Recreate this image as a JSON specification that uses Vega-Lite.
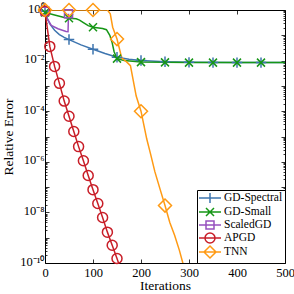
{
  "$schema": "https://vega.github.io/schema/vega-lite/v6.json",
  "width": 240,
  "height": 253,
  "autosize": "none",
  "padding": {"left": 45, "top": 10, "right": 9, "bottom": 31},
  "config": {
    "font": "Liberation Serif",
    "view": {"stroke": null},
    "axis": {
      "domainColor": "black", "tickColor": "black", "labelColor": "black", "titleColor": "black",
      "labelFont": "Liberation Serif", "titleFont": "Liberation Serif",
      "labelFontSize": 12.5, "titleFontSize": 13.5, "titleFontWeight": "normal",
      "grid": false, "domainWidth": 1, "tickWidth": 0.8
    },
    "legend": {"labelFont": "Liberation Serif", "labelFontSize": 11.5}
  },
  "datasets": {
    "lines": [
      {"method": "GD-Spectral", "iter": 0, "err": 0.891},
      {"method": "GD-Spectral", "iter": 5, "err": 0.447},
      {"method": "GD-Spectral", "iter": 10, "err": 0.282},
      {"method": "GD-Spectral", "iter": 20, "err": 0.158},
      {"method": "GD-Spectral", "iter": 30, "err": 0.107},
      {"method": "GD-Spectral", "iter": 40, "err": 0.0832},
      {"method": "GD-Spectral", "iter": 50, "err": 0.0676},
      {"method": "GD-Spectral", "iter": 75, "err": 0.0417},
      {"method": "GD-Spectral", "iter": 100, "err": 0.0282},
      {"method": "GD-Spectral", "iter": 125, "err": 0.0191},
      {"method": "GD-Spectral", "iter": 150, "err": 0.0135},
      {"method": "GD-Spectral", "iter": 175, "err": 0.0112},
      {"method": "GD-Spectral", "iter": 200, "err": 0.01},
      {"method": "GD-Spectral", "iter": 250, "err": 0.00891},
      {"method": "GD-Spectral", "iter": 300, "err": 0.00851},
      {"method": "GD-Spectral", "iter": 400, "err": 0.00832},
      {"method": "GD-Spectral", "iter": 500, "err": 0.00832},
      {"method": "GD-Small", "iter": 0, "err": 0.794},
      {"method": "GD-Small", "iter": 20, "err": 0.631},
      {"method": "GD-Small", "iter": 40, "err": 0.501},
      {"method": "GD-Small", "iter": 50, "err": 0.468},
      {"method": "GD-Small", "iter": 65, "err": 0.447},
      {"method": "GD-Small", "iter": 72, "err": 0.398},
      {"method": "GD-Small", "iter": 80, "err": 0.316},
      {"method": "GD-Small", "iter": 90, "err": 0.24},
      {"method": "GD-Small", "iter": 100, "err": 0.209},
      {"method": "GD-Small", "iter": 120, "err": 0.186},
      {"method": "GD-Small", "iter": 128, "err": 0.166},
      {"method": "GD-Small", "iter": 135, "err": 0.1},
      {"method": "GD-Small", "iter": 140, "err": 0.0501},
      {"method": "GD-Small", "iter": 144, "err": 0.0224},
      {"method": "GD-Small", "iter": 150, "err": 0.012},
      {"method": "GD-Small", "iter": 165, "err": 0.01},
      {"method": "GD-Small", "iter": 200, "err": 0.00871},
      {"method": "GD-Small", "iter": 300, "err": 0.00832},
      {"method": "GD-Small", "iter": 500, "err": 0.00832},
      {"method": "ScaledGD", "iter": 0, "err": 0.891},
      {"method": "ScaledGD", "iter": 3, "err": 0.525},
      {"method": "ScaledGD", "iter": 13, "err": 0.245},
      {"method": "ScaledGD", "iter": 27, "err": 0.182},
      {"method": "ScaledGD", "iter": 44, "err": 0.141},
      {"method": "ScaledGD", "iter": 48, "err": 0.138},
      {"method": "ScaledGD", "iter": 49, "err": 0.708},
      {"method": "APGD", "iter": 0, "err": 0.891},
      {"method": "APGD", "iter": 10, "err": 0.0363},
      {"method": "APGD", "iter": 20, "err": 0.00589},
      {"method": "APGD", "iter": 30, "err": 0.00126},
      {"method": "APGD", "iter": 40, "err": 0.000251},
      {"method": "APGD", "iter": 50, "err": 6.31e-5},
      {"method": "APGD", "iter": 60, "err": 1.58e-5},
      {"method": "APGD", "iter": 70, "err": 3.98e-6},
      {"method": "APGD", "iter": 80, "err": 1.1e-6},
      {"method": "APGD", "iter": 90, "err": 2.88e-7},
      {"method": "APGD", "iter": 100, "err": 7.94e-8},
      {"method": "APGD", "iter": 110, "err": 2.24e-8},
      {"method": "APGD", "iter": 120, "err": 6.31e-9},
      {"method": "APGD", "iter": 130, "err": 1.66e-9},
      {"method": "APGD", "iter": 140, "err": 5.01e-10},
      {"method": "APGD", "iter": 150, "err": 1.51e-10},
      {"method": "APGD", "iter": 155, "err": 7.94e-11},
      {"method": "TNN", "iter": 0, "err": 1},
      {"method": "TNN", "iter": 130, "err": 1},
      {"method": "TNN", "iter": 136, "err": 0.708},
      {"method": "TNN", "iter": 141, "err": 0.209},
      {"method": "TNN", "iter": 150, "err": 0.0708},
      {"method": "TNN", "iter": 160, "err": 0.0126},
      {"method": "TNN", "iter": 170, "err": 0.00891},
      {"method": "TNN", "iter": 178, "err": 0.00631},
      {"method": "TNN", "iter": 184, "err": 0.00158},
      {"method": "TNN", "iter": 190, "err": 0.000398},
      {"method": "TNN", "iter": 200, "err": 0.0001},
      {"method": "TNN", "iter": 212, "err": 7.94e-6},
      {"method": "TNN", "iter": 220, "err": 2.0e-6},
      {"method": "TNN", "iter": 229, "err": 3.98e-7},
      {"method": "TNN", "iter": 240, "err": 7.94e-8},
      {"method": "TNN", "iter": 250, "err": 1.86e-8},
      {"method": "TNN", "iter": 260, "err": 3.98e-9},
      {"method": "TNN", "iter": 270, "err": 1.26e-9},
      {"method": "TNN", "iter": 280, "err": 3.16e-10},
      {"method": "TNN", "iter": 290, "err": 6.31e-11}
    ],
    "marks": [
      {"method": "GD-Spectral", "iter": 0, "err": 0.891},
      {"method": "GD-Spectral", "iter": 50, "err": 0.0676},
      {"method": "GD-Spectral", "iter": 100, "err": 0.0282},
      {"method": "GD-Spectral", "iter": 150, "err": 0.0135},
      {"method": "GD-Spectral", "iter": 200, "err": 0.01},
      {"method": "GD-Spectral", "iter": 250, "err": 0.00891},
      {"method": "GD-Spectral", "iter": 300, "err": 0.00851},
      {"method": "GD-Spectral", "iter": 350, "err": 0.00832},
      {"method": "GD-Spectral", "iter": 400, "err": 0.00832},
      {"method": "GD-Spectral", "iter": 450, "err": 0.00832},
      {"method": "GD-Small", "iter": 0, "err": 0.794},
      {"method": "GD-Small", "iter": 50, "err": 0.468},
      {"method": "GD-Small", "iter": 100, "err": 0.209},
      {"method": "GD-Small", "iter": 150, "err": 0.012},
      {"method": "GD-Small", "iter": 200, "err": 0.00871},
      {"method": "GD-Small", "iter": 250, "err": 0.00851},
      {"method": "GD-Small", "iter": 300, "err": 0.00832},
      {"method": "GD-Small", "iter": 350, "err": 0.00832},
      {"method": "GD-Small", "iter": 400, "err": 0.00832},
      {"method": "GD-Small", "iter": 450, "err": 0.00832},
      {"method": "ScaledGD", "iter": 0, "err": 0.891},
      {"method": "ScaledGD", "iter": 49, "err": 0.708},
      {"method": "APGD", "iter": 0, "err": 0.891},
      {"method": "APGD", "iter": 10, "err": 0.0363},
      {"method": "APGD", "iter": 20, "err": 0.00589},
      {"method": "APGD", "iter": 30, "err": 0.00126},
      {"method": "APGD", "iter": 40, "err": 0.000251},
      {"method": "APGD", "iter": 50, "err": 6.31e-5},
      {"method": "APGD", "iter": 60, "err": 1.58e-5},
      {"method": "APGD", "iter": 70, "err": 3.98e-6},
      {"method": "APGD", "iter": 80, "err": 1.1e-6},
      {"method": "APGD", "iter": 90, "err": 2.88e-7},
      {"method": "APGD", "iter": 100, "err": 7.94e-8},
      {"method": "APGD", "iter": 110, "err": 2.24e-8},
      {"method": "APGD", "iter": 120, "err": 6.31e-9},
      {"method": "APGD", "iter": 130, "err": 1.66e-9},
      {"method": "APGD", "iter": 140, "err": 5.01e-10},
      {"method": "APGD", "iter": 150, "err": 1.51e-10},
      {"method": "TNN", "iter": 0, "err": 1},
      {"method": "TNN", "iter": 50, "err": 1},
      {"method": "TNN", "iter": 100, "err": 1},
      {"method": "TNN", "iter": 150, "err": 0.0708},
      {"method": "TNN", "iter": 200, "err": 0.0001},
      {"method": "TNN", "iter": 250, "err": 1.86e-8}
    ]
  },
  "resolve": {"axis": {"x": "independent", "y": "independent"}},
  "layer": [
    {
      "data": {"name": "lines"},
      "mark": {"type": "line", "strokeWidth": 1.5, "clip": true},
      "encoding": {
        "x": {"field": "iter", "type": "quantitative",
          "scale": {"domain": [0, 500], "nice": false, "zero": false},
          "axis": {"orient": "bottom", "values": [0, 100, 200, 300, 400, 500], "tickSize": -4, "labelPadding": 7, "title": "Iterations", "titlePadding": 0, "labelFlush": false}},
        "y": {"field": "err", "type": "quantitative",
          "scale": {"type": "log", "domain": [1e-10, 1], "nice": false},
          "axis": {"orient": "left", "values": [1, 0.1, 0.01, 0.001, 0.0001, 1e-5, 1e-6, 1e-7, 1e-8, 1e-9, 1e-10], "tickSize": -4, "labelPadding": 5, "labelFlush": false, "labelOffset": -2,
            "labelExpr": "round(log(datum.value)/LN10) == 0 ? '10⁰' : round(log(datum.value)/LN10) == -2 ? '10⁻²' : round(log(datum.value)/LN10) == -4 ? '10⁻⁴' : round(log(datum.value)/LN10) == -6 ? '10⁻⁶' : round(log(datum.value)/LN10) == -8 ? '10⁻⁸' : round(log(datum.value)/LN10) == -10 ? '10⁻¹⁰' : ''",
            "title": "Relative Error", "titlePadding": 4}},
        "color": {"field": "method", "type": "nominal",
          "scale": {"domain": ["GD-Spectral", "GD-Small", "ScaledGD", "APGD", "TNN"], "range": ["#3E75AF", "#169616", "#9650BE", "#C81E28", "#FF9A14"]},
          "legend": {"title": null, "orient": "bottom-right", "offset": 0, "strokeColor": "black", "fillColor": "white", "padding": 2, "labelFontSize": 11.5, "labelColor": "black", "symbolSize": 100, "symbolStrokeWidth": 1.5, "symbolOffset": 5, "labelOffset": 8, "rowPadding": -4, "cornerRadius": 0}}
      }
    },
    {
      "data": {"name": "marks"},
      "transform": [{"filter": "datum.method == 'GD-Spectral'"}],
      "mark": {"type": "point", "filled": false, "strokeWidth": 1.5, "size": 110, "opacity": 1, "clip": false, "shape": "M-1,0H1M0,-1V1"},
      "encoding": {
        "x": {"field": "iter", "type": "quantitative", "axis": null},
        "y": {"field": "err", "type": "quantitative", "axis": null},
        "color": {"field": "method", "type": "nominal"}
      }
    },
    {
      "data": {"name": "marks"},
      "transform": [{"filter": "datum.method == 'GD-Small'"}],
      "mark": {"type": "point", "filled": false, "strokeWidth": 1.5, "size": 100, "opacity": 1, "clip": false, "shape": "M-0.8,-0.8L0.8,0.8M-0.8,0.8L0.8,-0.8"},
      "encoding": {
        "x": {"field": "iter", "type": "quantitative", "axis": null},
        "y": {"field": "err", "type": "quantitative", "axis": null},
        "color": {"field": "method", "type": "nominal"}
      }
    },
    {
      "data": {"name": "marks"},
      "transform": [{"filter": "datum.method == 'ScaledGD'"}],
      "mark": {"type": "point", "filled": false, "strokeWidth": 1.5, "size": 100, "opacity": 1, "clip": false, "shape": "M-0.8,-0.8H0.8V0.8H-0.8Z"},
      "encoding": {
        "x": {"field": "iter", "type": "quantitative", "axis": null},
        "y": {"field": "err", "type": "quantitative", "axis": null},
        "color": {"field": "method", "type": "nominal"}
      }
    },
    {
      "data": {"name": "marks"},
      "transform": [{"filter": "datum.method == 'APGD'"}],
      "mark": {"type": "point", "filled": false, "strokeWidth": 1.5, "size": 100, "opacity": 1, "clip": false, "shape": "M-1,0A1,1 0 1,1 1,0A1,1 0 1,1 -1,0"},
      "encoding": {
        "x": {"field": "iter", "type": "quantitative", "axis": null},
        "y": {"field": "err", "type": "quantitative", "axis": null},
        "color": {"field": "method", "type": "nominal"}
      }
    },
    {
      "data": {"name": "marks"},
      "transform": [{"filter": "datum.method == 'TNN'"}],
      "mark": {"type": "point", "filled": false, "strokeWidth": 1.5, "size": 100, "opacity": 1, "clip": false, "shape": "M0,-1.3L1.3,0L0,1.3L-1.3,0Z"},
      "encoding": {
        "x": {"field": "iter", "type": "quantitative", "axis": null},
        "y": {"field": "err", "type": "quantitative", "axis": null},
        "color": {"field": "method", "type": "nominal"}
      }
    },
    {
      "data": {"name": "marks"},
      "transform": [{"filter": "datum.iter < 0"}],
      "mark": {"type": "point", "filled": false, "strokeWidth": 1.5, "size": 100, "opacity": 1},
      "encoding": {
        "x": {"field": "iter", "type": "quantitative", "axis": null},
        "y": {"field": "err", "type": "quantitative", "axis": null},
        "color": {"field": "method", "type": "nominal"},
        "shape": {"field": "method", "type": "nominal",
          "scale": {"domain": ["GD-Spectral", "GD-Small", "ScaledGD", "APGD", "TNN"], "range": ["M-2.2,0H2.2M0,-1V1", "M-2.2,0H2.2M-0.8,-0.8L0.8,0.8M-0.8,0.8L0.8,-0.8", "M-2.2,0H2.2M-0.8,-0.8H0.8V0.8H-0.8Z", "M-2.2,0H2.2M-1,0A1,1 0 1,1 1,0A1,1 0 1,1 -1,0", "M-2.2,0H2.2M0,-1.2L1.2,0L0,1.2L-1.2,0Z"]},
          "legend": {"title": null, "orient": "bottom-right", "offset": 0, "strokeColor": "black", "fillColor": "white", "padding": 2, "labelFontSize": 11.5, "labelColor": "black", "symbolSize": 100, "symbolStrokeWidth": 1.5, "symbolOffset": 5, "labelOffset": 8, "rowPadding": -4, "cornerRadius": 0}}
      }
    },
    {
      "data": {"name": "marks"},
      "mark": {"type": "point", "opacity": 0},
      "encoding": {
        "x": {"field": "iter", "type": "quantitative",
          "axis": {"orient": "top", "values": [0, 100, 200, 300, 400, 500], "tickSize": -4, "labels": false, "title": null}},
        "y": {"field": "err", "type": "quantitative",
          "axis": {"orient": "right", "values": [1, 0.1, 0.01, 0.001, 0.0001, 1e-5, 1e-6, 1e-7, 1e-8, 1e-9, 1e-10], "tickSize": -4, "labels": false, "title": null}}
      }
    },
    {
      "data": {"name": "marks"},
      "mark": {"type": "point", "opacity": 0},
      "encoding": {
        "x": {"field": "iter", "type": "quantitative", "axis": null},
        "y": {"field": "err", "type": "quantitative",
          "axis": {"orient": "left", "domain": false, "labels": false, "title": null, "tickSize": -2,
            "values": [2e-10,3e-10,4e-10,5e-10,6e-10,7e-10,8e-10,9e-10,2e-9,3e-9,4e-9,5e-9,6e-9,7e-9,8e-9,9e-9,2e-8,3e-8,4e-8,5e-8,6e-8,7e-8,8e-8,9e-8,2e-7,3e-7,4e-7,5e-7,6e-7,7e-7,8e-7,9e-7,2e-6,3e-6,4e-6,5e-6,6e-6,7e-6,8e-6,9e-6,2e-5,3e-5,4e-5,5e-5,6e-5,7e-5,8e-5,9e-5,0.0002,0.0003,0.0004,0.0005,0.0006,0.0007,0.0008,0.0009,0.002,0.003,0.004,0.005,0.006,0.007,0.008,0.009,0.02,0.03,0.04,0.05,0.06,0.07,0.08,0.09,0.2,0.3,0.4,0.5,0.6,0.7,0.8,0.9]}}
      }
    },
    {
      "data": {"name": "marks"},
      "mark": {"type": "point", "opacity": 0},
      "encoding": {
        "x": {"field": "iter", "type": "quantitative", "axis": null},
        "y": {"field": "err", "type": "quantitative",
          "axis": {"orient": "right", "domain": false, "labels": false, "title": null, "tickSize": -2,
            "values": [2e-10,3e-10,4e-10,5e-10,6e-10,7e-10,8e-10,9e-10,2e-9,3e-9,4e-9,5e-9,6e-9,7e-9,8e-9,9e-9,2e-8,3e-8,4e-8,5e-8,6e-8,7e-8,8e-8,9e-8,2e-7,3e-7,4e-7,5e-7,6e-7,7e-7,8e-7,9e-7,2e-6,3e-6,4e-6,5e-6,6e-6,7e-6,8e-6,9e-6,2e-5,3e-5,4e-5,5e-5,6e-5,7e-5,8e-5,9e-5,0.0002,0.0003,0.0004,0.0005,0.0006,0.0007,0.0008,0.0009,0.002,0.003,0.004,0.005,0.006,0.007,0.008,0.009,0.02,0.03,0.04,0.05,0.06,0.07,0.08,0.09,0.2,0.3,0.4,0.5,0.6,0.7,0.8,0.9]}}
      }
    }
  ]
}
